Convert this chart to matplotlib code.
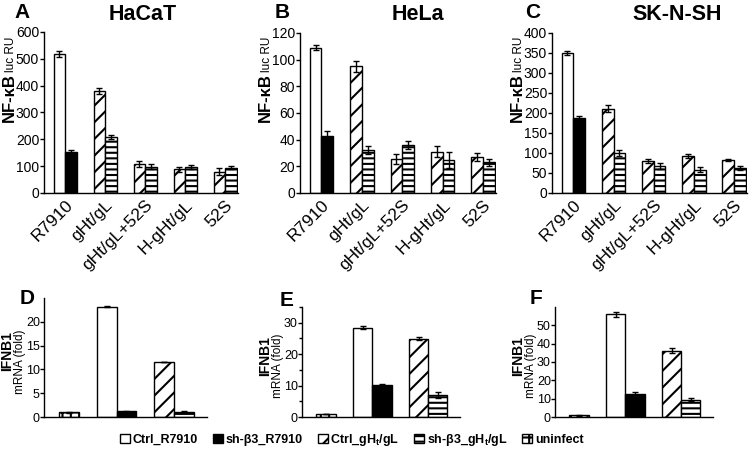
import numpy as np
import matplotlib.pyplot as plt
from matplotlib.patches import Patch

plt.rcParams['font.family'] = ['Liberation Sans', 'DejaVu Sans']
plt.rcParams['mathtext.fontset'] = 'custom'
plt.rcParams['mathtext.rm'] = 'Liberation Sans'
plt.rcParams['mathtext.bf'] = 'Liberation Sans:bold'
plt.rcParams['hatch.linewidth'] = 1.5

# ---- top row: NF-kB luciferase ----
groups = ['R7910', 'gHt/gL', 'gHt/gL+52S', 'H-gHt/gL', '52S']

hacat_ctrl = [518, 380, 108, 88, 80]
hacat_ctrl_err = [10, 10, 12, 9, 14]
hacat_sh = [153, 208, 98, 98, 95]
hacat_sh_err = [9, 7, 9, 7, 4]

hela_ctrl = [109, 95, 25.5, 31, 27]
hela_ctrl_err = [2, 4, 3.5, 4, 3]
hela_sh = [42.5, 32.5, 36, 24.5, 23]
hela_sh_err = [4, 3, 3, 6, 2.5]

sknsh_ctrl = [350, 211, 80, 93, 82]
sknsh_ctrl_err = [5, 8, 5, 5, 3]
sknsh_sh = [188, 100, 67, 58, 62]
sknsh_sh_err = [5, 8, 8, 6, 5]

# ---- bottom row: IFNB1 mRNA ----
# order: uninfect, Ctrl_R7910, sh_R7910, Ctrl_gHt/gL, sh_gHt/gL
d_vals = [1.0, 23.2, 1.2, 11.6, 1.0]
d_err = [0.1, 0.15, 0.05, 0.05, 0.25]
e_vals = [1.0, 28.4, 10.2, 24.9, 7.0]
e_err = [0.1, 0.4, 0.3, 0.4, 0.8]
f_vals = [1.0, 56.0, 12.7, 36.2, 9.5]
f_err = [0.2, 1.2, 1.0, 1.2, 1.0]

legend_labels = ['Ctrl_R7910', 'sh-β3_R7910', r'Ctrl_gH$_\mathbf{t}$/gL',
                 r'sh-β3_gH$_\mathbf{t}$/gL', 'uninfect']

W, H = 750, 453
fig = plt.figure(figsize=(7.5, 4.53), dpi=100)


def rect(x0, y0, x1, y1):
    return [x0 / W, 1 - y1 / H, (x1 - x0) / W, (y1 - y0) / H]


def fx(x):
    return x / W


def fy(y):
    return 1 - y / H


ekw = dict(ecolor='black', elinewidth=1, capsize=2.5, capthick=1)


def style(ax, ls, pad=0.5):
    for s in ['top', 'right']:
        ax.spines[s].set_visible(False)
    for s in ['left', 'bottom']:
        ax.spines[s].set_linewidth(1)
    ax.tick_params(axis='y', direction='out', length=3, width=1, labelsize=ls, pad=pad)
    ax.tick_params(axis='x', length=0)


def top_panel(r, ctrl, ctrl_err, sh, sh_err, ymax, step, title, tx, letter, lx):
    ax = fig.add_axes(r)
    x = np.arange(len(groups))
    w = 0.29
    b1 = ax.bar(x - w / 2, ctrl, w, yerr=ctrl_err, color='white',
                edgecolor='black', linewidth=1, error_kw=ekw)
    b2 = ax.bar(x + w / 2, sh, w, yerr=sh_err, color=['black'] + ['white'] * 4,
                edgecolor='black', linewidth=1, error_kw=ekw)
    for i in range(1, len(groups)):
        b1[i].set_hatch('//')
        b2[i].set_hatch('---')
    ax.set_xlim(-0.53, 4.32)
    ax.set_ylim(0, ymax)
    ax.set_yticks(np.arange(0, ymax + 1, step))
    ax.set_xticks(x)
    ax.set_xticklabels(groups, rotation=45, ha='right', rotation_mode='anchor', fontsize=12.5)
    style(ax, 10)
    ax.tick_params(axis='x', pad=3)
    fig.text(fx(tx), fy(15), title, fontsize=15.5, fontweight='bold', ha='center', va='center')
    fig.text(fx(lx), fy(12), letter, fontsize=15, fontweight='bold', ha='center', va='center')
    return ax


def bottom_panel(r, vals, err, ymax, major, minor, letter, lx, ly):
    ax = fig.add_axes(r)
    pos = [1.25, 3.15, 4.15, 6.05, 7.05]
    colors = ['white', 'white', 'black', 'white', 'white']
    hatches = ['++', '', '', '//', '---']
    bars = ax.bar(pos, vals, 1.0, yerr=err, color=colors, edgecolor='black',
                  linewidth=1, error_kw=ekw)
    for b, h in zip(bars, hatches):
        b.set_hatch(h)
    ax.set_xlim(0, 8.2)
    ax.set_ylim(0, ymax)
    ax.set_yticks(np.arange(0, ymax, major))
    if minor:
        ax.set_yticks(np.arange(0, ymax + 0.1, minor), minor=True)
        ax.tick_params(axis='y', which='minor', length=2.5, width=1)
    ax.set_xticks([])
    style(ax, 9, pad=0)
    fig.text(fx(lx), fy(ly), letter, fontsize=15, fontweight='bold', ha='center', va='center')
    return ax


top_axes = [
    top_panel(rect(44, 32, 238, 193), hacat_ctrl, hacat_ctrl_err, hacat_sh, hacat_sh_err,
              600, 100, 'HaCaT', 143, 'A', 22),
    top_panel(rect(300, 33, 496, 193), hela_ctrl, hela_ctrl_err, hela_sh, hela_sh_err,
              120, 20, 'HeLa', 418, 'B', 282),
    top_panel(rect(552, 33, 747, 193), sknsh_ctrl, sknsh_ctrl_err, sknsh_sh, sknsh_sh_err,
              400, 50, 'SK-N-SH', 677, 'C', 533),
]
bottom_axes = [
    bottom_panel(rect(44, 298, 207, 417), d_vals, d_err, 25, 5, None, 'D', 27, 298),
    bottom_panel(rect(302, 307, 460, 417), e_vals, e_err, 35, 10, 5, 'E', 287, 300),
    bottom_panel(rect(555, 307, 713, 417), f_vals, f_err, 60, 10, None, 'F', 536, 298),
]

# y labels placed just left of the tick labels
fig.canvas.draw()
renderer = fig.canvas.get_renderer()
inv = fig.transFigure.inverted()


def tick_left(ax):
    return min(t.get_window_extent(renderer).x0 for t in ax.get_yticklabels() if t.get_text())


for ax in top_axes:
    xr = inv.transform((tick_left(ax) + 1, 0))[0]
    t1 = fig.text(xr, fy(122), 'NF-κB', fontsize=12, fontweight='bold',
                  rotation=90, ha='right', va='bottom')
    bb = t1.get_window_extent(renderer)
    ytop = inv.transform((0, bb.y1))[1]
    fig.text(xr, ytop + 1 / H, 'luc RU', fontsize=8.5, rotation=90, ha='right', va='bottom')

for ax in bottom_axes:
    xr = tick_left(ax)
    pos = ax.get_position()
    yc = pos.y0 + pos.height / 2
    t2 = fig.text(xr / W, yc - 4 / H, 'mRNA (fold)', fontsize=8.5, rotation=90,
                  ha='right', va='center')
    bb = t2.get_window_extent(renderer)
    xr2 = bb.x0 + 0.3
    t3 = fig.text(xr2 / W, yc + 6 / H, 'IFNB1', fontsize=10, fontweight='bold', rotation=90,
                  ha='right', va='center')
    left = t3.get_window_extent(renderer).x0
    if left < 0.5:
        shift = 0.5 - left
        t2.set_x((xr + shift) / W)
        t3.set_x((xr2 + shift) / W)

handles = [
    Patch(facecolor='white', edgecolor='black'),
    Patch(facecolor='black', edgecolor='black'),
    Patch(facecolor='white', edgecolor='black', hatch='//'),
    Patch(facecolor='white', edgecolor='black', hatch='---'),
    Patch(facecolor='white', edgecolor='black', hatch='++'),
]
fig.legend(handles, legend_labels, loc='center', bbox_to_anchor=(fx(352), fy(440)),
           ncol=5, frameon=False, handlelength=0.8, handleheight=0.8,
           handletextpad=0.2, columnspacing=1.2,
           prop={'weight': 'bold', 'size': 9})

fig.savefig('out.png', dpi=100)
